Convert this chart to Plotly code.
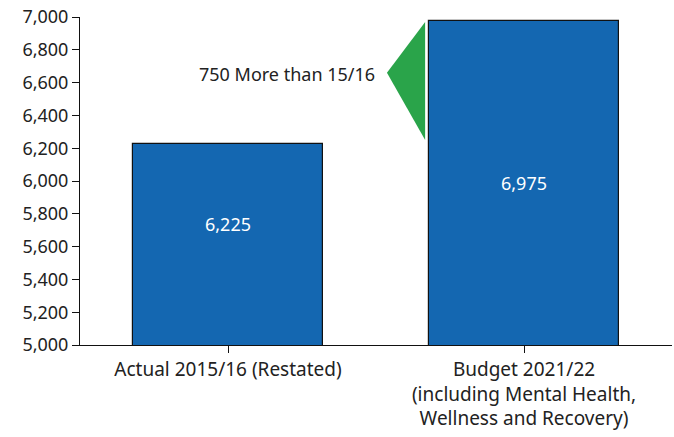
import plotly.graph_objects as go

# data
categories = ["Actual 2015/16 (Restated)",
              "Budget 2021/22<br>(including Mental Health,<br>Wellness and Recovery)"]
values = [6225, 6975]
value_labels = ["6,225", "6,975"]
label_y = [5740, 5990]
y_ticks = list(range(5000, 7001, 200))

# green "increase" arrow next to the budget bar
arrow_x = [0.666, 0.537, 0.666]
arrow_y = [6970, 6660, 6250]
arrow_text = "750 More than 15/16"

BLUE = "#1467b1"
GREEN = "#2aa44a"
FONT = "Noto Sans"

fig = go.Figure()

fig.add_trace(
    go.Bar(
        x=[0, 1],
        y=values,
        width=0.64,
        marker=dict(color=BLUE, line=dict(color="#111111", width=1.2)),
        hoverinfo="skip",
        showlegend=False,
    )
)

fig.add_trace(
    go.Scatter(
        x=arrow_x,
        y=arrow_y,
        fill="toself",
        fillcolor=GREEN,
        mode="lines",
        line=dict(color=GREEN, width=0),
        hoverinfo="skip",
        showlegend=False,
    )
)

# value labels inside bars
for i, (txt, yy) in enumerate(zip(value_labels, label_y)):
    fig.add_annotation(x=i, y=yy, text=txt, showarrow=False,
                       font=dict(color="white", size=18, family=FONT))

fig.add_annotation(x=0.505, y=6650, text=arrow_text, showarrow=False,
                   xanchor="right", font=dict(color="#222222", size=18, family=FONT))

fig.update_layout(
    width=674,
    height=437,
    margin=dict(l=80, r=2, t=17, b=92),
    plot_bgcolor="white",
    paper_bgcolor="white",
    font=dict(family=FONT, size=18, color="#222222"),
    bargap=0,
    xaxis=dict(
        range=[-0.5, 1.5],
        tickvals=[0, 1],
        ticktext=categories,
        showline=True,
        linecolor="#111111",
        linewidth=1,
        ticks="outside",
        ticklen=7,
        tickcolor="#111111",
        showgrid=False,
        zeroline=False,
        automargin=False,
        tickfont=dict(size=19),
    ),
    yaxis=dict(
        range=[5000, 7000],
        tickvals=y_ticks,
        tickformat=",",
        showline=True,
        linecolor="#111111",
        linewidth=1,
        ticks="outside",
        ticklen=7,
        tickcolor="#111111",
        showgrid=False,
        zeroline=False,
        automargin=False,
        tickfont=dict(size=18),
    ),
)

# drop the default body margin so the figure fills the window
fig.write_html(
    "out.html",
    config={"displayModeBar": False},
    post_script="document.body.style.margin='0';",
)
